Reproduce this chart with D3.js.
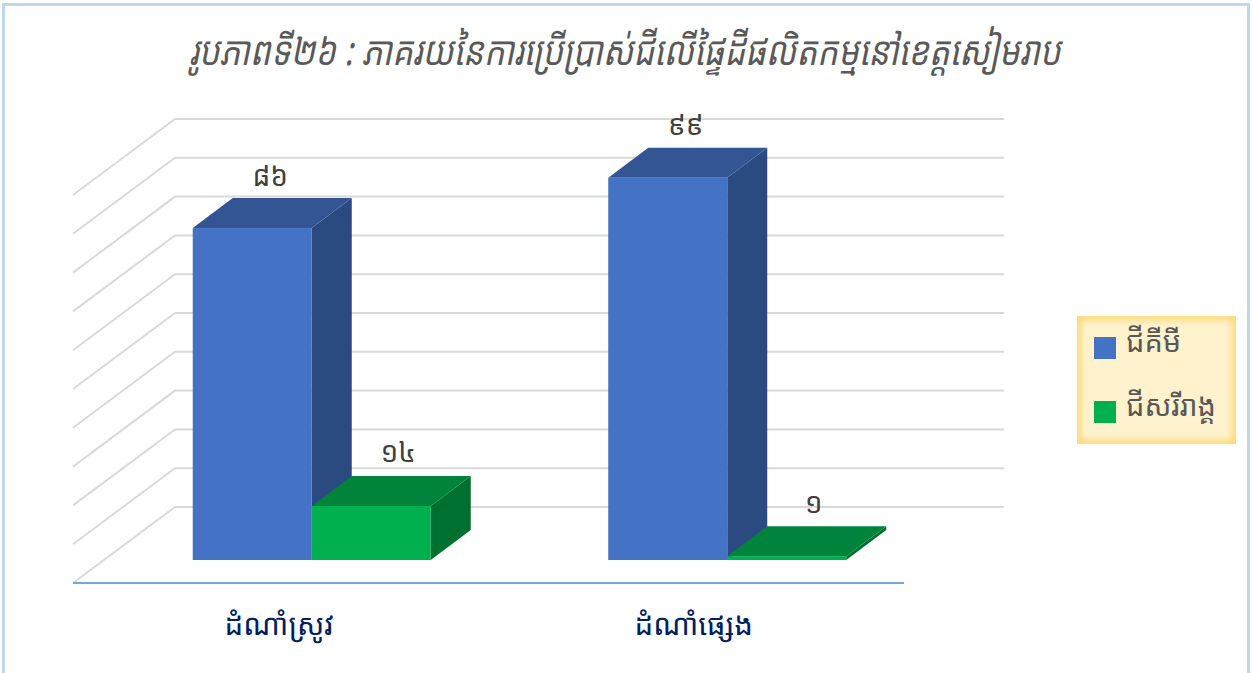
<!DOCTYPE html>
<html><head><meta charset="utf-8">
<script src="https://cdn.jsdelivr.net/npm/d3@7/dist/d3.min.js"></script>
<style>html,body{margin:0;padding:0;background:#fff}svg{display:block}</style></head>
<body><svg id="c" width="1252" height="673"></svg>
<script>
const titleText = "រូបភាពទី២៦ : ភាគរយនៃការប្រើប្រាស់ជីលើផ្ទៃដីផលិតកម្មនៅខេត្តសៀមរាប";
const categories = ["ដំណាំស្រូវ", "ដំណាំផ្សេង"];
const seriesNames = ["ជីគីមី", "ជីសរីរាង្គ"];
const chemical = [86, 99];
const organic = [14, 1];
const chemicalLabels = ["៨៦", "៩៩"];
const organicLabels = ["១៤", "១"];
const gridTicks = d3.range(0, 101, 10);
const KH = "'Noto Sans Khmer','Khmer OS','Noto Sans','DejaVu Sans',sans-serif";

const svg = d3.select("#c");
const defs = svg.append("defs");
defs.append("filter").attr("id","glow").attr("x","-10%").attr("y","-10%").attr("width","120%").attr("height","120%")
  .append("feGaussianBlur").attr("stdDeviation",3.5);
defs.append("clipPath").attr("id","lg").append("rect").attr("x",1077).attr("y",316).attr("width",159).attr("height",128);

svg.append("rect").attr("x",3.5).attr("y",4.5).attr("width",1245).attr("height",680)
  .attr("fill","#fff").attr("stroke","#BDD7EE").attr("stroke-width",3);

svg.append("text").attr("transform","translate(625,65) scale(0.965,1.18)").attr("text-anchor","middle")
  .attr("font-family",KH).attr("font-style","italic").attr("font-size",34).attr("fill","#595959").text(titleText);

// scales
const depth = {x:40, y:-30};
const floor = {x:102, y:-76};
const yBack = d3.scaleLinear().domain([0,100]).range([507,119]);
const yBar = d3.scaleLinear().domain([0,100]).range([560,174]);
const xBack = d3.scaleLinear().domain([0,1]).range([175,1004]);
const xBand = d3.scaleBand().domain(categories).range([104,935]);
const xAxisBand = d3.scaleBand().domain(categories).range([72,901]);
const barW = 119;

// gridlines
const g = svg.append("g").attr("fill","none").attr("stroke","#D9D9D9").attr("stroke-width",2);
g.selectAll("path").data(gridTicks).join("path")
  .attr("d", t => d3.line()([[xBack(0)-floor.x, yBack(t)-floor.y],[xBack(0),yBack(t)],[xBack(1),yBack(t)]]));

// axis
const axisLine = svg.append("line").attr("x1",73).attr("x2",904).attr("y1",583).attr("y2",583)
  .attr("stroke","#74A6DC").attr("stroke-width",2);
const axis = svg.append("g").attr("transform","translate(0,583)").call(d3.axisBottom(xAxisBand).tickSize(0).tickPadding(31));
axis.select(".domain").remove();
axis.selectAll("text").attr("font-family",KH).attr("font-size",29.5).attr("fill","#002060");

// bars
function bar(x, v, c) {
  const top = yBar(v), bot = yBar(0), w = barW, d = depth;
  const b = svg.append("g");
  b.append("polygon").attr("fill",c.side).attr("points",[[x+w,top],[x+w+d.x,top+d.y],[x+w+d.x,bot+d.y],[x+w,bot]].join(" "));
  b.append("polygon").attr("fill",c.top).attr("points",[[x,top],[x+d.x,top+d.y],[x+w+d.x,top+d.y],[x+w,top]].join(" "));
  b.append("rect").attr("x",x).attr("y",top).attr("width",w).attr("height",bot-top).attr("fill",c.front);
}
const blue = {front:"#4472C4",top:"#335593",side:"#2B4A80"};
const green = {front:"#00B04F",top:"#00843C",side:"#007030"};
categories.forEach((cat,i) => {
  const c = xBand(cat)+xBand.bandwidth()/2;
  bar(c-barW, chemical[i], blue);
  bar(c, organic[i], green);
});
function lab(x,y,t){
  svg.append("text").attr("x",x).attr("y",y).attr("text-anchor","middle").attr("dominant-baseline","middle")
    .attr("font-family",KH).attr("font-size",28).attr("fill","#404040").text(t);
}
categories.forEach((cat,i) => {
  const c = xBand(cat)+xBand.bandwidth()/2;
  lab(c-barW/2+18, yBar(chemical[i])-50, chemicalLabels[i]);
  lab(c+barW/2+27, yBar(organic[i])-51, organicLabels[i]);
});

// legend
const lg = svg.append("g");
lg.append("rect").attr("x",1077).attr("y",316).attr("width",159).attr("height",128).attr("fill","#FFF2CC");
lg.append("g").attr("clip-path","url(#lg)").append("rect").attr("x",1077).attr("y",316).attr("width",159).attr("height",128)
  .attr("fill","none").attr("stroke","#FFD05A").attr("stroke-width",6).attr("filter","url(#glow)");
const ly = d3.scalePoint().domain(seriesNames).range([348,412]);
const lc = d3.scaleOrdinal().domain(seriesNames).range([blue.front, green.front]);
seriesNames.forEach(n => {
  lg.append("rect").attr("x",1094).attr("y",ly(n)-11).attr("width",22).attr("height",22).attr("fill",lc(n));
  lg.append("text").attr("x",1126).attr("y",ly(n)-4).attr("dominant-baseline","middle")
    .attr("font-family",KH).attr("font-size",29).attr("fill","#595959").text(n);
});
</script></body></html>
